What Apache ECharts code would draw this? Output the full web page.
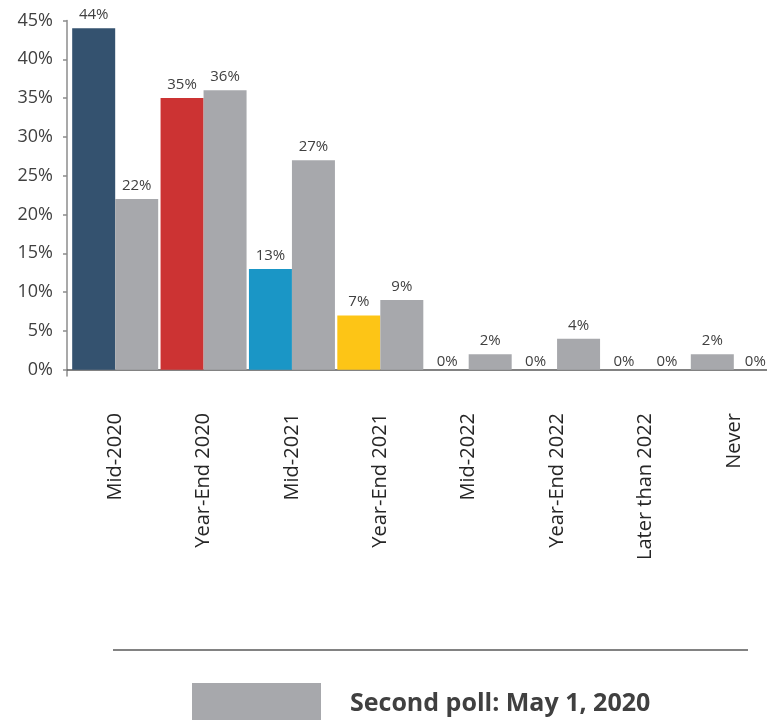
<!DOCTYPE html>
<html>
<head>
<meta charset="utf-8">
<style>
  html, body { margin: 0; padding: 0; background: #ffffff; overflow: hidden; }
  #chart { width: 790px; height: 720px; }
</style>
<script src="https://cdn.jsdelivr.net/npm/echarts@6/dist/echarts.min.js"></script>
</head>
<body>
<div id="chart"></div>
<script>
// Expected timing of recovery, two polls side by side (percent of respondents)
const categories = ['Mid-2020', 'Year-End 2020', 'Mid-2021', 'Year-End 2021',
                    'Mid-2022', 'Year-End 2022', 'Later than 2022', 'Never'];
const firstPoll = [44, 35, 13, 7, 0, 0, 0, 0];
const secondPoll = [22, 36, 27, 9, 2, 4, 0, 2];
const yTicks = [0, 5, 10, 15, 20, 25, 30, 35, 40, 45];

const firstPollName = 'First poll';
const secondPollName = 'Second poll: May 1, 2020';

// Styling
const FONT = '"Open Sans", "Noto Sans", sans-serif';
const TEXT = '#404040';
const GRAY = '#a7a8ac';
const firstPollColors = ['#34526f', '#cc3333', '#1a96c6', '#fdc516',
                         '#34526f', '#34526f', '#34526f', '#34526f'];
// In the last group the second-poll bar sits in the leading slot
const secondPollLeads = ['Never'];

function item(value, color) {
  return {
    value: value,
    itemStyle: { color: color },
    label: { distance: value === 0 ? 1 : 6 }
  };
}

const leadSlot = [];
const trailSlot = [];
categories.forEach(function (c, i) {
  const a = item(firstPoll[i], firstPollColors[i]);
  const b = item(secondPoll[i], GRAY);
  if (secondPollLeads.indexOf(c) >= 0) {
    leadSlot.push(b); trailSlot.push(a);
  } else {
    leadSlot.push(a); trailSlot.push(b);
  }
});

const barLabel = {
  show: true,
  position: 'top',
  formatter: '{c}%',
  fontFamily: FONT,
  fontSize: 15,
  color: TEXT
};

const chart = echarts.init(document.getElementById('chart'), null, { renderer: 'canvas' });
chart.setOption({
  animation: false,
  backgroundColor: '#ffffff',
  grid: [
    { left: 71, width: 707, top: 20.5, bottom: 344 },
    { left: 67, width: 720, top: 20.5, bottom: 344 }
  ],
  xAxis: [
    {
      gridIndex: 0,
      type: 'category',
      data: categories,
      axisLine: { show: false },
      axisTick: { show: false },
      axisLabel: {
        rotate: 90,
        margin: 37,
        interval: 0,
        fontFamily: FONT,
        fontSize: 20,
        color: '#262626'
      }
    },
    {
      gridIndex: 1,
      type: 'value',
      min: 0,
      max: 1,
      axisLine: { show: true, lineStyle: { color: '#595959', width: 1.5 } },
      axisTick: { show: false },
      axisLabel: { show: false },
      splitLine: { show: false }
    }
  ],
  yAxis: [
    {
      gridIndex: 0,
      type: 'value',
      min: -0.8,
      max: 45,
      show: false,
      splitLine: { show: false }
    },
    {
      gridIndex: 1,
      type: 'value',
      min: -0.8,
      max: 45,
      axisLine: { show: true, lineStyle: { color: '#8c8c8c', width: 1.5 } },
      axisTick: {
        show: true,
        length: 4,
        customValues: yTicks,
        lineStyle: { color: '#8c8c8c', width: 1.5 }
      },
      axisLabel: {
        customValues: yTicks,
        formatter: '{value}%',
        margin: 14,
        fontFamily: FONT,
        fontSize: 18,
        color: TEXT
      },
      splitLine: { show: false }
    }
  ],
  legend: {
    data: [secondPollName],
    left: 187,
    top: 678,
    icon: 'rect',
    itemWidth: 129,
    itemHeight: 42,
    selectedMode: false,
    textStyle: {
      fontFamily: FONT,
      fontSize: 25,
      fontWeight: 'bold',
      color: TEXT,
      padding: [0, 0, 0, 24]
    }
  },
  graphic: [
    {
      type: 'line',
      shape: { x1: 113, y1: 650, x2: 748, y2: 650 },
      style: { stroke: '#595959', lineWidth: 1.5 }
    }
  ],
  series: [
    {
      name: firstPollName,
      type: 'bar',
      xAxisIndex: 0,
      yAxisIndex: 0,
      barWidth: 43,
      barGap: '0%',
      data: leadSlot,
      label: barLabel
    },
    {
      name: secondPollName,
      type: 'bar',
      xAxisIndex: 0,
      yAxisIndex: 0,
      barWidth: 43,
      barGap: '0%',
      itemStyle: { color: GRAY },
      data: trailSlot,
      label: barLabel
    }
  ]
});
</script>
</body>
</html>
